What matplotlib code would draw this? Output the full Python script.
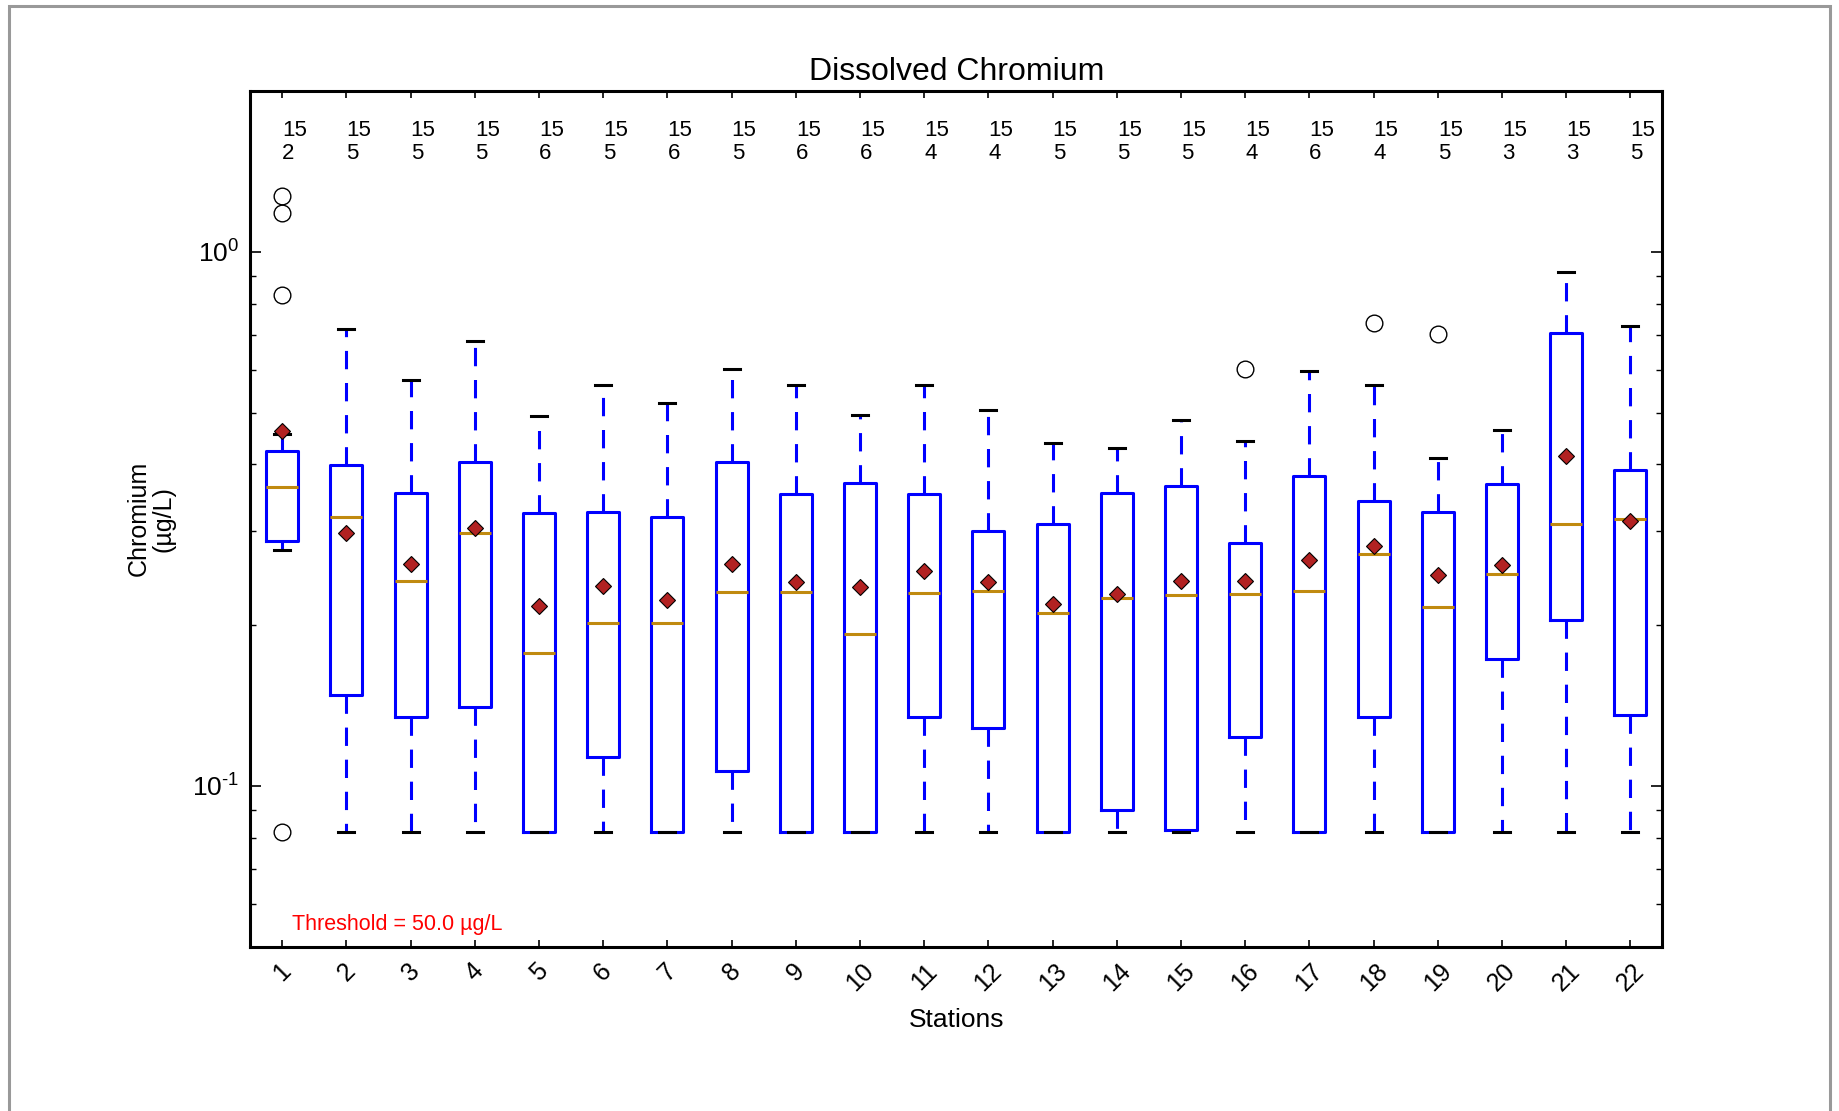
import matplotlib.pyplot as plt
import numpy as np
from matplotlib.patches import Rectangle
from matplotlib.ticker import LogLocator, NullFormatter, FuncFormatter

plt.rcParams["font.family"] = ["Liberation Sans", "DejaVu Sans"]
plt.rcParams["mathtext.fontset"] = "custom"
plt.rcParams["mathtext.rm"] = "Liberation Sans"
plt.rcParams["mathtext.it"] = "Liberation Sans:italic"
plt.rcParams["mathtext.bf"] = "Liberation Sans:bold"
plt.rcParams["axes.unicode_minus"] = False

# data (µg/L)
stations = list(range(1, 23))
n_total = [15] * 22
n_detect = [2, 5, 5, 5, 6, 5, 6, 5, 6, 6, 4, 4, 5, 5, 5, 4, 6, 4, 5, 3, 3, 5]
whislo = [0.276, 0.082, 0.082, 0.082, 0.082, 0.082, 0.082, 0.082, 0.082, 0.082, 0.082,
          0.082, 0.082, 0.082, 0.082, 0.082, 0.082, 0.082, 0.082, 0.082, 0.082, 0.082]
q1 = [0.287, 0.148, 0.1345, 0.1407, 0.082, 0.1132, 0.082, 0.1066, 0.082, 0.082, 0.1345,
      0.1285, 0.082, 0.0902, 0.0825, 0.1234, 0.082, 0.1345, 0.082, 0.1731, 0.2045, 0.1358]
med = [0.362, 0.319, 0.2416, 0.297, 0.1776, 0.2014, 0.2014, 0.2309, 0.2309, 0.1925, 0.2297,
       0.232, 0.2108, 0.2251, 0.2274, 0.2286, 0.232, 0.2715, 0.2162, 0.2491, 0.3095, 0.3159]
q3 = [0.423, 0.3986, 0.3531, 0.4046, 0.324, 0.3257, 0.3191, 0.4046, 0.3513, 0.3695, 0.3513,
      0.3003, 0.3095, 0.3531, 0.364, 0.2855, 0.3808, 0.3408, 0.3257, 0.3677, 0.7056, 0.3906]
whishi = [0.455, 0.7164, 0.5764, 0.681, 0.4927, 0.5622, 0.521, 0.6033, 0.5622, 0.4952, 0.5622,
          0.5053, 0.4387, 0.4299, 0.4853, 0.4432, 0.5972, 0.5622, 0.4108, 0.4638, 0.9177, 0.7273]
means = [0.461, 0.2973, 0.2607, 0.3034, 0.2173, 0.2368, 0.2228, 0.2607, 0.2404, 0.2356, 0.2529,
         0.2404, 0.2195, 0.2286, 0.2416, 0.2416, 0.2647, 0.2812, 0.2478, 0.2594, 0.4149, 0.3127]
fliers = [[1.27, 1.18, 0.829, 0.082], [], [], [], [], [], [], [], [], [], [],
          [], [], [], [], [0.603], [], [0.735], [0.702], [], [], []]
threshold = 50.0

stats = []
for i in range(len(stations)):
    stats.append(dict(whislo=whislo[i], q1=q1[i], med=med[i], q3=q3[i],
                      whishi=whishi[i], mean=means[i], fliers=fliers[i]))


def log_label(v, pos):
    e = int(round(np.log10(v)))
    if e < 0:
        return r"$\mathdefault{10^{\text{-}%d}}$" % (-e)
    return r"$\mathdefault{10^{%d}}$" % e


fig = plt.figure(figsize=(18.39, 11.11), dpi=100)
ax = fig.add_axes([0.136, 0.148, 0.768, 0.770])

ax.bxp(stats, positions=stations, widths=0.5, showmeans=True, showfliers=True,
       boxprops=dict(color="blue", linewidth=2.2),
       whiskerprops=dict(color="blue", linewidth=2.2, linestyle=(0, (6, 4.5))),
       capprops=dict(color="black", linewidth=2.2),
       medianprops=dict(color="#c08a10", linewidth=2.2),
       meanprops=dict(marker="D", markerfacecolor="#b22222", markeredgecolor="black",
                      markeredgewidth=0.8, markersize=8),
       flierprops=dict(marker="o", markerfacecolor="none", markeredgecolor="black",
                       markeredgewidth=1.0, markersize=12))

ax.set_yscale("log")
ax.set_ylim(0.05, 2.0)
ax.set_xlim(0.5, 22.5)
ax.set_xticks(stations)
ax.set_xticklabels([str(s) for s in stations], rotation=45, ha="center", fontsize=18)
ax.yaxis.set_major_locator(LogLocator(base=10))
ax.yaxis.set_major_formatter(FuncFormatter(log_label))
ax.yaxis.set_minor_locator(LogLocator(base=10, subs=np.arange(2, 10)))
ax.yaxis.set_minor_formatter(NullFormatter())
ax.tick_params(axis="y", which="major", labelsize=19, direction="in", length=8,
               width=1.2, right=True, pad=8)
ax.tick_params(axis="y", which="minor", direction="in", length=4, width=1.0, right=True)
ax.tick_params(axis="x", which="major", direction="in", length=5, width=1.2, top=True, pad=9)
for sp in ax.spines.values():
    sp.set_linewidth(2.2)

for s, nt, nd in zip(stations, n_total, n_detect):
    ax.text(s, 0.966, f"{nt}\n{nd}", transform=ax.get_xaxis_transform(),
            ha="left", va="top", fontsize=16, linespacing=1.1)

ax.text(0.03, 0.026, f"Threshold = {threshold:.1f} µg/L", transform=ax.transAxes,
        color="red", fontsize=15.5, ha="left", va="center")

ax.set_title("Dissolved Chromium", fontsize=23, pad=8)
ax.set_xlabel("Stations", fontsize=19, labelpad=9)
ax.set_ylabel("Chromium\n(µg/L)", fontsize=18, labelpad=12, linespacing=1.0)

fig.patches.append(Rectangle((0.005, -0.05), 0.99, 1.045, transform=fig.transFigure,
                             fill=False, edgecolor="#999999", linewidth=2.2))

fig.savefig("out.png", dpi=100)
